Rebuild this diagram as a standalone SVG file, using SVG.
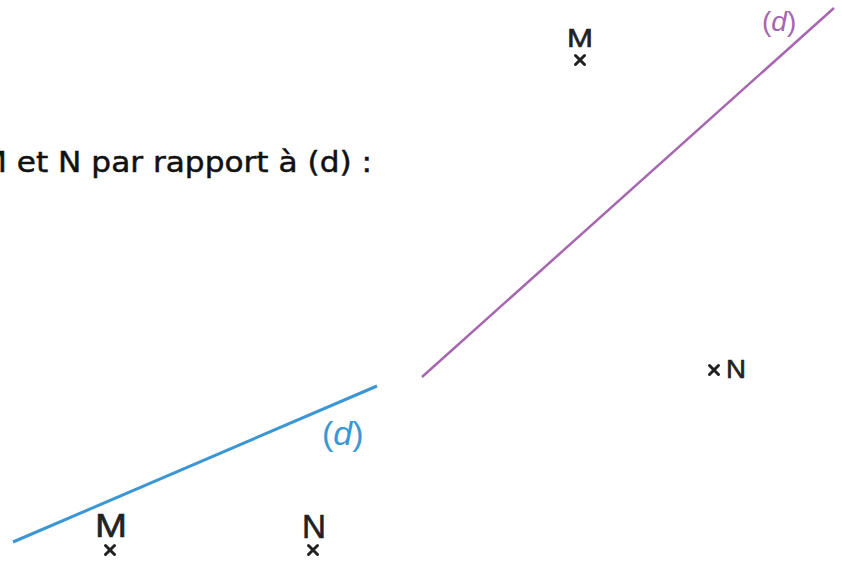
<svg xmlns="http://www.w3.org/2000/svg" width="842" height="562" viewBox="0 0 842 562">
<style>
.lbl{font-family:"Liberation Sans",Arial,sans-serif;fill:#222;stroke:#222;stroke-width:0.6;}
.cross{stroke:#222;stroke-width:3;stroke-linecap:round;}
.blue{stroke:#3b97d3;stroke-width:3;fill:none;}
.purple{stroke:#a666b0;stroke-width:2.5;fill:none;}
.title{font-family:"DejaVu Sans",sans-serif;font-size:29px;fill:#111;stroke:#111;stroke-width:0.5;}
</style>
<defs>
<g id="x"><line class="cross" x1="-4.5" y1="-4.5" x2="4.5" y2="4.5"/><line class="cross" x1="-4.5" y1="4.5" x2="4.5" y2="-4.5"/></g>
</defs>
<rect width="842" height="562" fill="#fff"/>
<text class="title" x="-20" y="172" textLength="392" lengthAdjust="spacingAndGlyphs">M et N par rapport à (d) :</text>
<g id="connectors">
<line id="d-blue" class="blue" x1="13" y1="542" x2="377" y2="386"/>
<line id="d-purple" class="purple" x1="422" y1="377" x2="834" y2="8"/>
</g>
<g id="label-d-blue"><text x="322" y="445" font-family="Liberation Sans,Arial,sans-serif" font-size="34" fill="#3b97d3">(<tspan font-style="italic">d</tspan>)</text></g>
<g id="label-d-purple"><text x="762" y="31" font-family="Liberation Sans,Arial,sans-serif" font-size="28" fill="#a666b0">(<tspan font-style="italic">d</tspan>)</text></g>
<g id="M-top"><text class="lbl" x="567" y="47" font-size="26" textLength="26" lengthAdjust="spacingAndGlyphs">M</text><use href="#x" x="580" y="60"/></g>
<g id="N-right"><use href="#x" x="714" y="370"/><text class="lbl" x="726" y="378" font-size="26" textLength="20" lengthAdjust="spacingAndGlyphs">N</text></g>
<g id="M-bottom"><text class="lbl" x="95" y="537" font-size="34" textLength="32" lengthAdjust="spacingAndGlyphs">M</text><use href="#x" x="110" y="550"/></g>
<g id="N-bottom"><text class="lbl" x="302" y="538" font-size="34" textLength="24" lengthAdjust="spacingAndGlyphs">N</text><use href="#x" x="313" y="550"/></g>
</svg>
